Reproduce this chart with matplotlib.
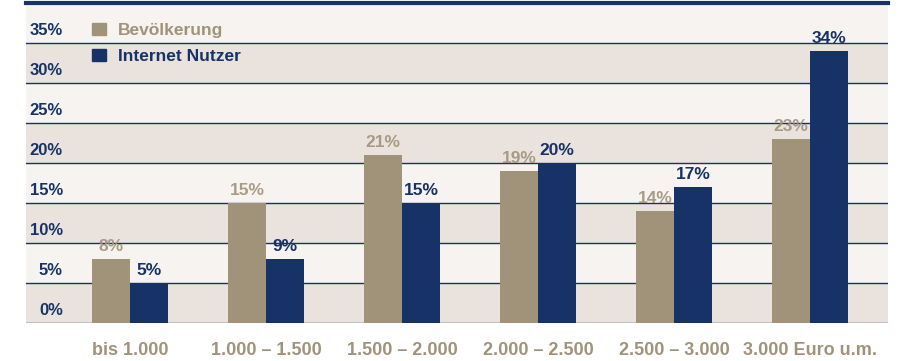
import matplotlib.pyplot as plt
from matplotlib.patches import Patch
import numpy as np

categories = ["bis 1.000", "1.000 \u2013 1.500", "1.500 \u2013 2.000",
              "2.000 \u2013 2.500", "2.500 \u2013 3.000", "3.000 Euro u.m."]
bevoelkerung = [8, 15, 21, 19, 14, 23]
internet_nutzer = [5, 8, 15, 20, 17, 34]
bev_labels = ["8%", "15%", "21%", "19%", "14%", "23%"]
net_labels = ["5%", "9%", "15%", "20%", "17%", "34%"]
y_ticks = [0, 5, 10, 15, 20, 25, 30, 35]

BEIGE = "#A1937A"
NAVY = "#173266"
LIGHT = "#F6F3F0"
BAND = "#EAE3DD"

plt.rcParams["font.family"] = ["Liberation Sans", "DejaVu Sans"]

fig = plt.figure(figsize=(9.03, 3.61), dpi=100)
ax = fig.add_axes([26 / 903, 38 / 361, 862 / 903, 320 / 361])
ax.set_xlim(-0.765, 5.574)
ax.set_ylim(0, 40)

# alternating bands
for i, lo in enumerate(range(0, 40, 5)):
    ax.axhspan(lo, lo + 5, color=BAND if i % 2 == 0 else LIGHT, lw=0, zorder=0)
for v in y_ticks:
    ax.axhline(v, color=NAVY, lw=1.0, zorder=1)

x = np.arange(len(categories))
w = 0.279
ax.bar(x - w / 2, bevoelkerung, w, color=BEIGE, zorder=2, label="Bevölkerung")
ax.bar(x + w / 2, internet_nutzer, w, color=NAVY, zorder=2, label="Internet Nutzer")

# value labels
for xi, h, t in zip(x, bevoelkerung, bev_labels):
    ax.annotate(t, (xi - w / 2, h), xytext=(0, 8), textcoords="offset pixels",
                ha="center", va="baseline", fontsize=12.5, color=BEIGE,
                fontweight="bold", alpha=0.9, zorder=3)
for xi, h, t in zip(x, internet_nutzer, net_labels):
    ax.annotate(t, (xi + w / 2, h), xytext=(0, 8), textcoords="offset pixels",
                ha="center", va="baseline", fontsize=12.5, color=NAVY,
                fontweight="bold", zorder=3)

# y labels sit just above each grid line
for v in y_ticks:
    ax.annotate(f"{v}%", (0, v), xycoords=ax.get_yaxis_transform(),
                xytext=(37, 8), textcoords="offset pixels", ha="right",
                va="baseline", fontsize=12, color=NAVY, fontweight="bold")

ax.set_yticks([])
ax.set_xticks(x)
ax.set_xticklabels(categories, fontsize=13, color=BEIGE, fontweight="bold")
ax.tick_params(axis="x", length=0, pad=14)

for s in ["left", "right", "bottom"]:
    ax.spines[s].set_visible(False)
ax.spines["top"].set_color(NAVY)
ax.spines["top"].set_linewidth(3)

handles = [Patch(color=BEIGE), Patch(color=NAVY)]
leg = ax.legend(handles, ["Bevölkerung", "Internet Nutzer"], loc="upper left",
                bbox_to_anchor=(66 / 862, 1 - 20 / 320), frameon=False,
                borderpad=0, borderaxespad=0, handlelength=0.8,
                handleheight=0.72, handletextpad=0.7, labelspacing=0.6,
                prop={"weight": "bold", "size": 12.5})
for t, c in zip(leg.get_texts(), [BEIGE, NAVY]):
    t.set_color(c)

fig.savefig("out.png", dpi=100)
